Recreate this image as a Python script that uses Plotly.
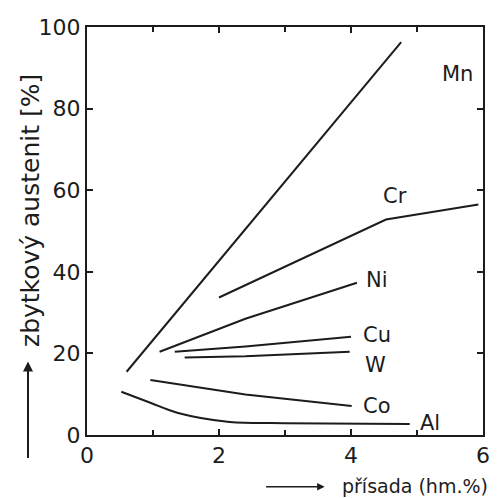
import plotly.graph_objects as go

# ---- data ----
mn_x = [0.60, 4.76]
mn_y = [15.5, 96.3]
cr_x = [2.00, 4.53, 5.93]
cr_y = [33.7, 52.8, 56.5]
ni_x = [1.10, 2.40, 4.09]
ni_y = [20.4, 28.5, 37.3]
cu_x = [1.33, 2.40, 4.00]
cu_y = [20.4, 21.7, 24.1]
w_x = [1.48, 2.40, 3.98]
w_y = [19.0, 19.3, 20.4]
co_x = [0.96, 2.40, 4.01]
co_y = [13.5, 9.9, 7.1]
al_x = [0.52, 0.96, 1.38, 2.16, 3.00, 4.89]
al_y = [10.6, 7.9, 5.4, 3.2, 2.9, 2.7]

series = [
    ("Mn", mn_x, mn_y, 5.62, 88.5),
    ("Cr", cr_x, cr_y, 4.67, 58.5),
    ("Ni", ni_x, ni_y, 4.40, 38.1),
    ("Cu", cu_x, cu_y, 4.40, 24.6),
    ("W", w_x, w_y, 4.37, 17.2),
    ("Co", co_x, co_y, 4.40, 7.1),
    ("Al", al_x, al_y, 5.20, 2.9),
]

x_ticks = [0, 2, 4, 6]
y_ticks = [0, 20, 40, 60, 80, 100]

INK = "#1c1c1c"
FONT = "DejaVu Sans, sans-serif"

fig = go.Figure()
for name, xs, ys, lx, ly in series:
    fig.add_trace(go.Scatter(x=xs, y=ys, mode="lines", name=name,
                             line=dict(color=INK, width=2,
                                       shape="spline" if name == "Al" else "linear"),
                             showlegend=False))
    fig.add_annotation(x=lx, y=ly, text=name, showarrow=False,
                       font=dict(family=FONT, size=21, color=INK))

fig.update_xaxes(range=[0, 6], tickvals=x_ticks, ticktext=[str(v) for v in x_ticks],
                 ticks="inside", ticklen=6, tickwidth=1.5, tickcolor=INK,
                 minor=dict(dtick=1, ticks="inside", ticklen=5, tickcolor=INK),
                 showline=True, linecolor=INK, linewidth=2, mirror="ticks",
                 showgrid=False, zeroline=False,
                 tickfont=dict(family=FONT, size=22, color=INK))
fig.update_yaxes(range=[0, 100], tickvals=y_ticks, ticktext=[str(v) for v in y_ticks],
                 ticks="inside", ticklen=6, tickwidth=1.5, tickcolor=INK,
                 showline=True, linecolor=INK, linewidth=2, mirror="ticks",
                 showgrid=False, zeroline=False,
                 tickfont=dict(family=FONT, size=22, color=INK))

# axis titles with arrows
fig.add_annotation(xref="paper", yref="paper", x=-0.143, y=0.55,
                   xanchor="center", yanchor="middle",
                   text="zbytkový austenit [%]", textangle=-90, showarrow=False,
                   font=dict(family=FONT, size=25, color=INK))
fig.add_annotation(xref="paper", yref="paper", x=-0.149, y=0.18, text="",
                   showarrow=True, arrowhead=2, arrowsize=1, arrowwidth=2,
                   arrowcolor=INK, ax=0, ay=98)
fig.add_annotation(xref="paper", yref="paper", x=1.017, y=-0.125,
                   xanchor="right", yanchor="middle", text="přísada (hm.%)",
                   showarrow=False, font=dict(family=FONT, size=19, color=INK))
fig.add_annotation(xref="paper", yref="paper", x=0.6, y=-0.127, text="",
                   showarrow=True, arrowhead=2, arrowsize=1, arrowwidth=1.5,
                   arrowcolor=INK, ax=-60, ay=0)

fig.update_layout(width=497, height=498,
                  margin=dict(l=87, r=7, t=27, b=63),
                  paper_bgcolor="white", plot_bgcolor="white")

fig.write_html("out.html")
